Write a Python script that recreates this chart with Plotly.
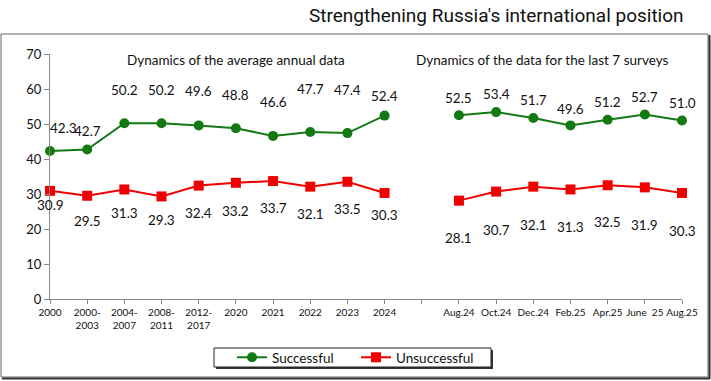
import plotly.graph_objects as go

categories = ["2000", "2000-<br>2003", "2004-<br>2007", "2008-<br>2011", "2012-<br>2017",
              "2020", "2021", "2022", "2023", "2024", "",
              "Aug.24", "Oct.24", "Dec.24", "Feb.25", "Apr.25", "June  25", "Aug.25"]
successful = [42.3, 42.7, 50.2, 50.2, 49.6, 48.8, 46.6, 47.7, 47.4, 52.4, None,
              52.5, 53.4, 51.7, 49.6, 51.2, 52.7, 51.0]
unsuccessful = [30.9, 29.5, 31.3, 29.3, 32.4, 33.2, 33.7, 32.1, 33.5, 30.3, None,
                28.1, 30.7, 32.1, 31.3, 32.5, 31.9, 30.3]
y_ticks = [0, 10, 20, 30, 40, 50, 60, 70]

# label offsets in pixels (style only)
green_dy = [23, 19, 33, 33, 34, 33, 34, 43, 43, 20, 0, 17, 18, 18, 16, 18, 18, 18]
green_dx = [13] + [0] * 17
red_dy = [14, 25, 24, 24, 27, 28, 27, 27, 27, 22, 0, 37, 38, 38, 38, 37, 38, 38]

W, H = 711, 381
L, R, T, B = 50, 682, 54, 299

def px(x):
    return (x - L) / (R - L)

def py(y):
    return (B - y) / (B - T)

GREEN = "#137a13"
RED = "#f00000"
FONT = "Lato"
FS = 13.5

x = list(range(len(categories)))
fig = go.Figure()
fig.add_trace(go.Scatter(x=x, y=successful, name="Successful", mode="lines+markers",
                         line=dict(color=GREEN, width=2),
                         marker=dict(symbol="circle", size=10, color=GREEN),
                         connectgaps=False, cliponaxis=False))
fig.add_trace(go.Scatter(x=x, y=unsuccessful, name="Unsuccessful", mode="lines+markers",
                         line=dict(color=RED, width=2),
                         marker=dict(symbol="square", size=10, color=RED),
                         connectgaps=False, cliponaxis=False))

ann = []
for i, v in enumerate(successful):
    if v is None:
        continue
    ann.append(dict(x=i, y=v, xref="x", yref="y", text=f"{v:.1f}", showarrow=False,
                    xanchor="center", yanchor="middle",
                    yshift=green_dy[i], xshift=green_dx[i],
                    font=dict(family=FONT, size=FS, color="#111")))
for i, v in enumerate(unsuccessful):
    if v is None:
        continue
    ann.append(dict(x=i, y=v, xref="x", yref="y", text=f"{v:.1f}", showarrow=False,
                    xanchor="center", yanchor="middle",
                    yshift=-red_dy[i], font=dict(family=FONT, size=FS, color="#111")))

ann.append(dict(x=px(496), y=py(15), xref="paper", yref="paper", xanchor="center", yanchor="middle",
                text="Strengthening Russia's international position", showarrow=False,
                font=dict(family="Roboto", size=19, color="#111")))
ann.append(dict(x=px(236), y=py(60), xref="paper", yref="paper", xanchor="center", yanchor="middle",
                text="Dynamics of the average annual data", showarrow=False,
                font=dict(family=FONT, size=FS, color="#111")))
ann.append(dict(x=px(542), y=py(60), xref="paper", yref="paper", xanchor="center", yanchor="middle",
                text="Dynamics of the data for the last 7 surveys", showarrow=False,
                font=dict(family=FONT, size=FS, color="#111")))

shapes = [
    dict(type="rect", xref="paper", yref="paper", x0=px(1), x1=px(708), y0=py(34), y1=py(377),
         line=dict(color="#666", width=1), layer="below"),
    dict(type="line", xref="paper", yref="paper", x0=px(709.5), x1=px(709.5), y0=py(35), y1=py(379),
         line=dict(color="#333", width=2)),
    dict(type="line", xref="paper", yref="paper", x0=px(2), x1=px(710), y0=py(378.5), y1=py(378.5),
         line=dict(color="#333", width=2)),
    # legend box shadow + box
    dict(type="rect", xref="paper", yref="paper", x0=px(216), x1=px(493), y0=py(350), y1=py(369),
         line=dict(width=0), fillcolor="#333", layer="below"),
    dict(type="rect", xref="paper", yref="paper", x0=px(214), x1=px(491), y0=py(348), y1=py(367),
         line=dict(width=1, color="#222"), fillcolor="white", layer="below"),
]

fig.update_layout(
    width=W, height=H,
    margin=dict(l=L, r=W - R, t=T, b=H - B, autoexpand=False),
    paper_bgcolor="white", plot_bgcolor="white",
    showlegend=True,
    legend=dict(orientation="h", x=px(232), y=py(357.5), xanchor="left", yanchor="middle",
                bgcolor="rgba(0,0,0,0)", borderwidth=0,
                font=dict(family=FONT, size=FS, color="#111"),
                entrywidth=79, entrywidthmode="pixels", tracegroupgap=0),
    xaxis=dict(range=[0, 17], tickmode="array", tickvals=x, ticktext=categories,
               showgrid=False, zeroline=False, showline=True, linecolor="#888", linewidth=1,
               ticks="outside", ticklen=4, tickcolor="#888",
               tickfont=dict(family=FONT, size=10, color="#111"), tickangle=0),
    yaxis=dict(range=[0, 70], tickmode="array", tickvals=y_ticks,
               showgrid=False, zeroline=False, showline=True, linecolor="#888", linewidth=1,
               ticks="outside", ticklen=5, tickcolor="#888",
               tickfont=dict(family=FONT, size=13, color="#111")),
    annotations=ann,
    shapes=shapes,
)

fig.write_html("out.html", config={"displayModeBar": False},
               post_script="document.body.style.margin='0';document.body.style.overflow='hidden';")
